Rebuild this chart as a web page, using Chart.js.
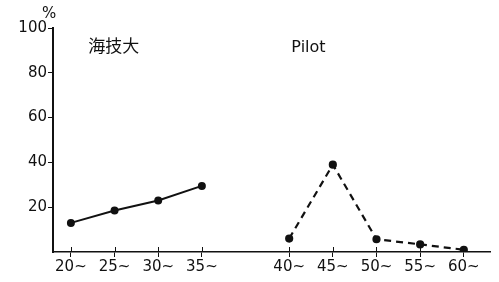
<!DOCTYPE html>
<html>
<head>
<meta charset="utf-8">
<script src="https://cdn.jsdelivr.net/npm/chart.js@4/dist/chart.umd.min.js"></script>
<style>
  html, body { margin: 0; padding: 0; background: #fff; }
  #wrap { width: 499px; height: 282px; }
</style>
</head>
<body>
<div id="wrap"><canvas id="myChart" width="499" height="282"></canvas></div>
<script>
// slot 4 is the empty gap between 35~ and 40~
const ageLabels = ["20~", "25~", "30~", "35~", "", "40~", "45~", "50~", "55~", "60~"];
const kaigidaiSlots = [0, 1, 2, 3];
const kaigidaiValues = [13, 18.5, 23, 29.5];
const pilotSlots = [5, 6, 7, 8, 9];
const pilotValues = [6, 39, 5.7, 3.4, 1];
const yTicks = [20, 40, 60, 80, 100];

const ink = "#111";
const font = "'DejaVu Sans', sans-serif";

const labelsPlugin = {
  id: "labelsPlugin",
  afterDraw(chart) {
    const c = chart.ctx;
    const x = chart.scales.x;
    const y = chart.scales.y;
    c.save();
    c.fillStyle = ink;
    c.strokeStyle = ink;
    c.textBaseline = "middle";
    c.font = "17px 'Noto Sans CJK JP', sans-serif";
    c.fillText("海技大", x.getPixelForValue(0.4), y.getPixelForValue(92));
    c.font = "16px " + font;
    c.fillText("Pilot", x.getPixelForValue(5.05), y.getPixelForValue(91));
    c.font = "15px " + font;
    c.fillText("%", chart.chartArea.left - 11, chart.chartArea.top - 14);
    // the x tick marks cross the axis line
    c.lineWidth = 1;
    const base = chart.chartArea.bottom;
    x.ticks.forEach((t) => {
      const px = Math.round(x.getPixelForValue(t.value)) + 0.5;
      c.beginPath();
      c.moveTo(px, base - 5);
      c.lineTo(px, base);
      c.stroke();
    });
    c.restore();
  },
};

const ctx = document.getElementById("myChart").getContext("2d");

const myChart = new Chart(ctx, {
  type: "line",
  data: {
    datasets: [
      {
        label: "海技大",
        data: kaigidaiSlots.map((s, i) => ({ x: s, y: kaigidaiValues[i] })),
        borderColor: ink,
        backgroundColor: ink,
        borderWidth: 2,
        pointRadius: 3,
        tension: 0,
      },
      {
        label: "Pilot",
        data: pilotSlots.map((s, i) => ({ x: s, y: pilotValues[i] })),
        borderColor: ink,
        backgroundColor: ink,
        borderWidth: 2.2,
        borderDash: [7, 5],
        pointRadius: 3,
        tension: 0,
      },
    ],
  },
  options: {
    responsive: false,
    animation: false,
    layout: { padding: { top: 28, right: 9, left: 0, bottom: 4 } },
    plugins: { legend: { display: false }, tooltip: { enabled: false } },
    scales: {
      x: {
        type: "linear",
        min: -0.41,
        max: 9.6,
        afterBuildTicks: (scale) => {
          scale.ticks = ageLabels
            .map((l, i) => ({ value: i, label: l }))
            .filter((t) => t.label !== "");
        },
        afterFit: (scale) => {
          scale.height = 26;
        },
        ticks: {
          color: ink,
          font: { family: font, size: 15 },
          padding: 1,
          autoSkip: false,
          maxRotation: 0,
          callback: (v) => ageLabels[v],
        },
        grid: {
          drawOnChartArea: false,
          drawTicks: true,
          tickLength: 5,
          color: ink,
          lineWidth: 1,
        },
        border: { display: true, color: ink, width: 1.5 },
      },
      y: {
        min: 0,
        max: 100,
        afterBuildTicks: (scale) => {
          scale.ticks = yTicks.map((v) => ({ value: v }));
        },
        afterFit: (scale) => {
          scale.width = 53;
        },
        ticks: {
          color: ink,
          font: { family: font, size: 15 },
          padding: 1,
        },
        grid: {
          drawOnChartArea: false,
          drawTicks: true,
          tickLength: 5,
          color: ink,
          lineWidth: 1,
        },
        border: { display: true, color: ink, width: 2 },
      },
    },
  },
  plugins: [labelsPlugin],
});
</script>
</body>
</html>
